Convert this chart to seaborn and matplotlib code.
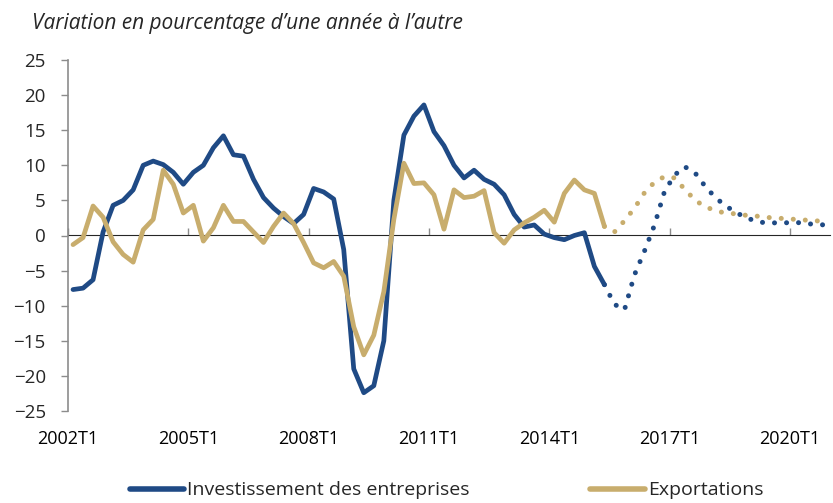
"""Business investment vs exports, year-over-year % change, with projections"""

import matplotlib

matplotlib.use("Agg")
import matplotlib.pyplot as plt
import numpy as np
import pandas as pd
import seaborn as sns
from matplotlib.lines import Line2D

# quarterly series 2002T1 .. 2020T4 (76 quarters)
years = list(range(2002, 2021))
quarters = [f"{y}T{q}" for y in years for q in range(1, 5)]

# actuals, 2002T1 .. 2015T2
investment_actual = [
    -7.7, -7.5, -6.3, 0.5, 4.3, 5.0, 6.5, 10.0, 10.6, 10.1, 9.0, 7.3,
    9.0, 10.0, 12.5, 14.2, 11.5, 11.3, 8.0, 5.4, 3.9, 2.7, 1.7, 3.0,
    6.7, 6.2, 5.2, -2.0, -19.0, -22.4, -21.4, -15.0, 5.0, 14.3, 17.0, 18.6,
    14.8, 12.8, 10.0, 8.2, 9.3, 8.0, 7.3, 5.8, 3.0, 1.2, 1.5, 0.2,
    -0.3, -0.6, 0.0, 0.4, -4.4, -7.0,
]
exports_actual = [
    -1.3, -0.3, 4.2, 2.6, -0.9, -2.7, -3.8, 0.8, 2.3, 9.3, 7.3, 3.2,
    4.3, -0.8, 1.1, 4.3, 2.0, 2.0, 0.5, -1.0, 1.3, 3.2, 1.7, -1.0,
    -3.9, -4.6, -3.7, -5.8, -13.0, -17.0, -14.2, -8.0, 2.3, 10.3, 7.4, 7.5,
    5.8, 0.9, 6.5, 5.4, 5.6, 6.4, 0.4, -1.1, 0.8, 1.8, 2.6, 3.6,
    1.9, 6.0, 7.9, 6.5, 6.0, 1.3,
]

# projections, 2015T3 .. 2020T4
investment_proj = [
    -9.8, -10.6, -5.6, -2.2, 1.5, 6.3, 8.6, 9.8, 9.0, 7.1, 5.5, 4.3,
    3.4, 2.6, 2.1, 1.8, 1.8, 1.8, 1.9, 1.7, 1.6, 1.5,
]
exports_proj = [
    0.5, 2.1, 3.9, 6.1, 7.6, 8.4, 8.2, 6.6, 5.1, 4.1, 3.6, 3.2,
    3.1, 2.9, 2.8, 2.6, 2.5, 2.4, 2.3, 2.2, 2.1, 2.0,
]

BLUE = "#1F4A85"
GOLD = "#C8AD6D"
GREY = "#8C8C8C"

df = pd.DataFrame(
    {
        "quarter": quarters,
        "investment": investment_actual + investment_proj,
        "exports": exports_actual + exports_proj,
    }
)
df["pos"] = np.arange(len(df))
n_act = len(investment_actual)
actual = df.iloc[:n_act]
proj = df.iloc[n_act - 1 :]  # start at last actual point so the dots connect

sns.set_style("white")
plt.rcParams["font.family"] = ["Open Sans", "DejaVu Sans"]

fig = plt.figure(figsize=(8.33, 5.03), dpi=100)
ax = fig.add_axes([68 / 833, 1 - 411 / 503, 762 / 833, 351 / 503])

dot_style = dict(linestyle=(0, (0.01, 2.4)), dash_capstyle="round", lw=3.6)
for col, color in [("investment", BLUE), ("exports", GOLD)]:
    sns.lineplot(data=actual, x="pos", y=col, ax=ax, color=color, lw=3.4,
                 solid_joinstyle="round")
    sns.lineplot(data=proj, x="pos", y=col, ax=ax, color=color, **dot_style)

ax.set_xlim(-0.5, len(df) - 0.5)
ax.set_ylim(-25, 25)
ax.set_yticks(range(-25, 30, 5))
ax.set_xlabel("")
ax.set_ylabel("")

# tick labels at the bottom, tick marks on the zero line
label_idx = list(range(0, len(df), 12))
ax.set_xticks([i - 0.5 for i in label_idx])
ax.set_xticklabels([quarters[i] for i in label_idx])
ax.tick_params(axis="x", length=0, pad=14, labelsize=13, colors="black")
ax.tick_params(axis="y", length=5, width=1, color=GREY, direction="out",
               labelsize=13.5, pad=11)
ax.yaxis.set_ticks_position("left")

zero = ax.secondary_xaxis(0.5)
zero.set_xticks([i - 0.5 for i in label_idx])
zero.set_xticklabels([])
zero.tick_params(axis="x", length=5, width=1, color=GREY, direction="out")
zero.spines["bottom"].set_color(GREY)
zero.spines["bottom"].set_linewidth(1.2)

for side in ["top", "right", "bottom"]:
    ax.spines[side].set_visible(False)
ax.spines["left"].set_color(GREY)
ax.spines["left"].set_linewidth(1.2)

fig.text(32 / 833, 1 - 24 / 503,
         "Variation en pourcentage d\u2019une ann\u00e9e \u00e0 l\u2019autre",
         style="italic", fontsize=15, ha="left", va="center")

handles = [
    Line2D([], [], color=BLUE, lw=4),
    Line2D([], [], color=GOLD, lw=4),
]
fig.legend(handles, ["Investissement des entreprises", "Exportations"],
           loc="center", bbox_to_anchor=(0.536, 0.025), ncol=2, frameon=False,
           fontsize=14, handlelength=2.8, handletextpad=0.15, columnspacing=6.2)

fig.savefig("out.png", dpi=100)
